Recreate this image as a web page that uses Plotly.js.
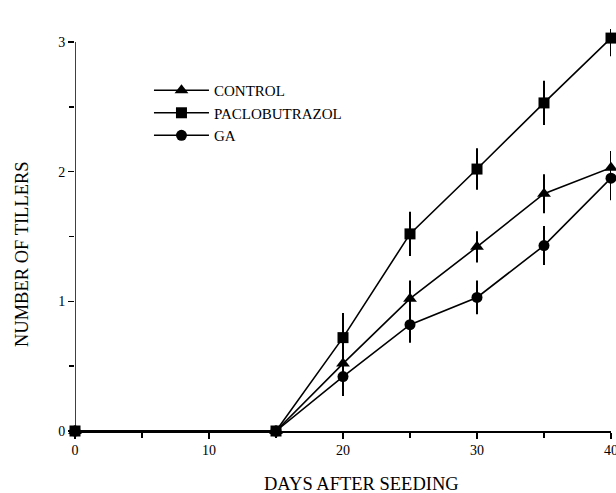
<!DOCTYPE html>
<html><head><meta charset="utf-8">
<script src="https://cdn.plot.ly/plotly-3.0.1.min.js"></script>
<style>body{margin:0;background:#fff}#chart{width:616px;height:493px}</style>
</head><body><div id="chart"></div>
<script>
const days = [0, 15, 20, 25, 30, 35, 40];
const controlVals = [0, 0, 0.52, 1.02, 1.42, 1.83, 2.03];
const controlErr  = [0, 0, 0.12, 0.14, 0.12, 0.15, 0.13];
const pacloVals   = [0, 0, 0.72, 1.52, 2.02, 2.53, 3.03];
const pacloErr    = [0, 0, 0.19, 0.17, 0.16, 0.17, 0.14];
const gaVals      = [0, 0, 0.42, 0.82, 1.03, 1.43, 1.95];
const gaErr       = [0, 0, 0.15, 0.14, 0.13, 0.15, 0.17];
const seriesNames = ['CONTROL', 'PACLOBUTRAZOL', 'GA'];
const xTicks = [0, 10, 20, 30, 40];
const yTicks = [0, 1, 2, 3];

const FAM = 'Liberation Serif';
function f(size){ return {family: FAM, size: size, color: '#000'}; }
function tr(name, y, err, symbol, size){
  return {x: days, y: y, name: name, type: 'scatter', mode: 'lines+markers',
    line: {color: '#000', width: 1.6},
    marker: {symbol: symbol, size: size, color: '#000'},
    error_y: {type: 'data', array: err, visible: true, color: '#000', thickness: 2, width: 0},
    cliponaxis: false};
}
const data = [
  tr(seriesNames[0], controlVals, controlErr, 'triangle-up', 12),
  tr(seriesNames[1], pacloVals, pacloErr, 'square', 11),
  tr(seriesNames[2], gaVals, gaErr, 'circle', 11)
];
const layout = {
  width: 616, height: 493,
  margin: {l: 75, r: 5, t: 29, b: 62},
  paper_bgcolor: '#fff', plot_bgcolor: '#fff',
  font: f(14),
  showlegend: true,
  legend: {x: 0.138, y: 0.888, xanchor: 'left', yanchor: 'top', font: f(15),
    bgcolor: 'rgba(0,0,0,0)', itemwidth: 55},
  xaxis: {range: [0, 40], tickvals: xTicks, ticktext: xTicks.map(String),
    showgrid: false, zeroline: false, showline: true, linecolor: '#000', linewidth: 1.5,
    ticks: 'outside', ticklen: 6, tickwidth: 1.5, tickcolor: '#000',
    ticklabeloverflow: 'allow',
    minor: {dtick: 5, ticks: 'outside', ticklen: 5, tickwidth: 1.5, tickcolor: '#000', showgrid: false},
    tickfont: f(14)},
  yaxis: {range: [0, 3.1], tickvals: yTicks, ticktext: yTicks.map(String),
    showgrid: false, zeroline: false, showline: false,
    ticks: 'outside', ticklen: 6, tickwidth: 1.5, tickcolor: '#000',
    minor: {tickvals: [0.5, 1.5, 2.5], ticks: 'outside', ticklen: 5, tickwidth: 1.5, tickcolor: '#000', showgrid: false},
    tickfont: f(14)},
  shapes: [{type: 'line', xref: 'x', yref: 'y', x0: 0, x1: 0, y0: 0, y1: 3,
    line: {color: '#000', width: 1.5}, layer: 'below'}],
  annotations: [
    {text: 'DAYS AFTER SEEDING', xref: 'paper', yref: 'paper', x: 0.535, y: -0.131,
     xanchor: 'center', yanchor: 'middle', showarrow: false, font: f(18.5)},
    {text: 'NUMBER OF TILLERS', xref: 'paper', yref: 'paper', x: -0.099, y: 0.44,
     xanchor: 'center', yanchor: 'middle', showarrow: false, textangle: -90, font: f(18.5)}
  ]
};
Plotly.newPlot('chart', data, layout, {displayModeBar: false, staticPlot: true});
</script></body></html>
